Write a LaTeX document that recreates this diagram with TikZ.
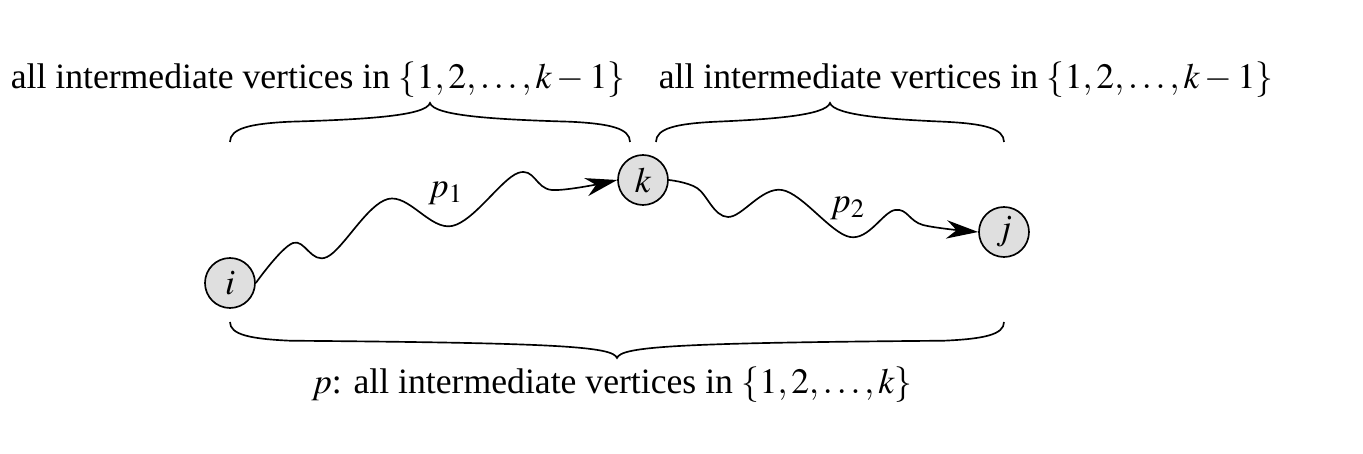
\documentclass[tikz,border=0pt]{standalone}
\usepackage{mathptmx}
\usepackage{fontspec}
\setmainfont{Liberation Serif}
\usepackage{tikz}
\usetikzlibrary{arrows.meta}

\tikzset{
  vertex/.style={circle, draw, line width=0.5pt, fill=gray!25, minimum size=15pt, inner sep=0pt},
  wave/.style={line width=0.5pt, -{Stealth[length=9.5pt, width=5.5pt, inset=3pt]}},
  brc/.style={line width=0.5pt},
  lbl/.style={font=\fontsize{10.7pt}{12pt}\selectfont}
}
% curly brace from x=#1 to x=#2 at height #3, tip offset #4
\newcommand{\cbrace}[4]{%
  \pgfmathsetmacro{\xm}{(#1+#2)/2}
  \draw[brc] ({#1},{#3}) .. controls ({#1},{#3+0.35*(#4)}) and ({#1+20},{#3+0.47*(#4)}) .. ({#1+60},{#3+0.52*(#4)})
    .. controls ({\xm-60},{#3+0.58*(#4)}) and ({\xm-4},{#3+0.68*(#4)}) .. ({\xm},{#3+#4})
    .. controls ({\xm+4},{#3+0.68*(#4)}) and ({\xm+60},{#3+0.58*(#4)}) .. ({#2-60},{#3+0.52*(#4)})
    .. controls ({#2-20},{#3+0.47*(#4)}) and ({#2},{#3+0.35*(#4)}) .. ({#2},{#3});
}

\begin{document}
\begin{tikzpicture}[x=0.3pt, y=-0.3pt]
\useasboundingbox (0,0) rectangle (1363,454);

% vertices
\node[vertex, lbl] (i) at (230,283) {$i$};
\node[vertex, lbl] (k) at (643,180) {$k$};
\node[vertex, lbl] (j) at (1004,232) {$j$};

% paths p1 and p2
\draw[wave] plot[smooth, tension=0.6] coordinates {(i.east) (293,243) (327,257) (388,199) (452,226) (518,173) (552,190) (k.west)};
\draw[wave] plot[smooth, tension=0.6] coordinates {(k.east) (697,188) (728,217) (782,190) (850,237) (895,210) (923,225) (j.west)};
\node[lbl] (p1) at (446,193) {$p_1$};
\node[lbl] (p2) at (848,208) {$p_2$};

% braces
\cbrace{230}{630}{142}{-39}
\cbrace{656}{1004}{142}{-39}
\cbrace{230}{1004}{322}{36}
\node[lbl] (top1) at (318,80) {all intermediate vertices in $\{1,2,\ldots,k-1\}$};
\node[lbl] (top2) at (966,80) {all intermediate vertices in $\{1,2,\ldots,k-1\}$};
\node[lbl] (bot) at (612,385) {$p$: all intermediate vertices in $\{1,2,\ldots,k\}$};
\end{tikzpicture}
\end{document}
